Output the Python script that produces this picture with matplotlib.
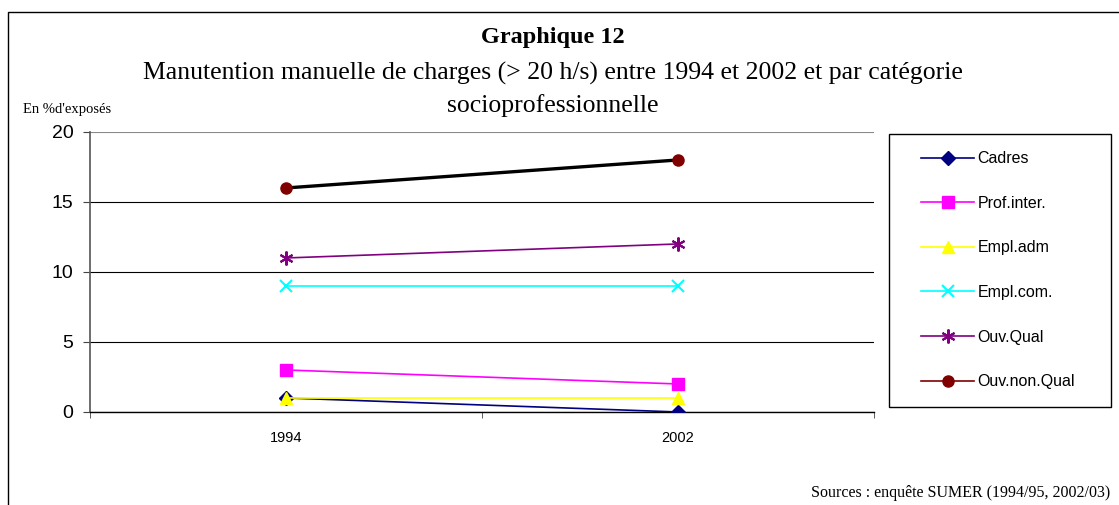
import matplotlib
matplotlib.use('Agg')
import matplotlib.pyplot as plt
from matplotlib.lines import Line2D
from matplotlib.patches import Rectangle

# data
annees = ['1994', '2002']
categories = ['Cadres', 'Prof.inter.', 'Empl.adm', 'Empl.com.', 'Ouv.Qual', 'Ouv.non.Qual']
cadres = [1, 0]
prof_inter = [3, 2]
empl_adm = [1, 1]
empl_com = [9, 9]
ouv_qual = [11, 12]
ouv_non_qual = [16, 18]

series = [cadres, prof_inter, empl_adm, empl_com, ouv_qual, ouv_non_qual]
couleurs = ['#000080', '#FF00FF', '#FFFF00', '#00FFFF', '#800080', '#800000']
marqueurs = ['D', 's', '^', 'x', (6, 2, 0), 'o']
tailles = [7, 8, 9, 9, 10, 8]

SANS = 'Liberation Sans'
SERIF = 'Liberation Serif'

fig = plt.figure(figsize=(11.19, 5.05), dpi=100)
ax = fig.add_axes([0.0804, 0.1842, 0.7006, 0.5545])

x = range(len(annees))
handles = []
for vals, nom, c, m, s in zip(series, categories, couleurs, marqueurs, tailles):
    mew = 1.5 if m in ('x', (6, 2, 0)) else 1
    if nom == 'Ouv.non.Qual':
        ax.plot(x, vals, color='black', lw=2.4, marker=m, ms=s,
                markerfacecolor=c, markeredgecolor=c, zorder=3)
    else:
        ax.plot(x, vals, color=c, lw=1.2, marker=m, ms=s,
                markerfacecolor=c, markeredgecolor=c, mew=mew, zorder=3)
    handles.append(Line2D([0], [0], color=c, lw=1.2, marker=m, ms=s,
                          markerfacecolor=c, markeredgecolor=c, mew=mew))

ax.set_xlim(-0.5, 1.5)
ax.set_ylim(0, 20)
ax.set_yticks([0, 5, 10, 15, 20])
ax.set_xticks(list(x))
ax.set_xticklabels(annees, fontsize=10.5, family=SANS)
ax.set_xticks([-0.5, 0.5, 1.5], minor=True)
ax.tick_params(axis='x', which='major', length=0, pad=14)
ax.tick_params(axis='x', which='minor', length=4, color='#444444')
ax.tick_params(axis='y', length=5, color='#444444', labelsize=14, pad=7)
for lab in ax.get_yticklabels():
    lab.set_family(SANS)

ax.yaxis.grid(True, color='black', lw=0.8)
ax.set_axisbelow(True)
ax.get_ygridlines()[-1].set_color('#888888')
ax.spines['top'].set_visible(False)
ax.spines['right'].set_visible(False)
ax.spines['left'].set_color('#555555')
ax.spines['left'].set_linewidth(1.2)
ax.spines['bottom'].set_color('black')
ax.spines['bottom'].set_linewidth(1.0)

# legend box
fig.patches.append(Rectangle((889 / 1119, 1 - 407 / 505), 222 / 1119, 273 / 505,
                             transform=fig.transFigure, fill=False,
                             edgecolor='black', lw=1.0))
leg = fig.legend(handles, categories, loc='upper left',
                 bbox_to_anchor=(907 / 1119, 1 - 137 / 505),
                 frameon=False, labelspacing=1.85, handlelength=3.3,
                 handletextpad=0.2, prop={'family': SANS, 'size': 11.5})

# outer frame
fig.patches.append(Rectangle((8 / 1119, -0.2), 1.3, 0.2 + 1 - 12 / 505,
                             transform=fig.transFigure, fill=False,
                             edgecolor='black', lw=1.0, clip_on=False))

fig.text(553 / 1119, 1 - 37 / 505, 'Graphique 12', ha='center', va='center',
         family=SERIF, fontweight='bold', fontsize=17.5)
fig.text(553 / 1119, 1 - 73 / 505,
         'Manutention manuelle de charges (> 20 h/s) entre 1994 et 2002 et par catégorie',
         ha='center', va='center', family=SERIF, fontsize=18.5)
fig.text(553 / 1119, 1 - 106 / 505, 'socioprofessionnelle', ha='center', va='center',
         family=SERIF, fontsize=18.5)
fig.text(23 / 1119, 1 - 109 / 505, "En %d'exposés", ha='left', va='center',
         family=SERIF, fontsize=10.5)
fig.text(1110 / 1119, 1 - 493 / 505, 'Sources : enquête SUMER (1994/95, 2002/03)',
         ha='right', va='center', family=SERIF, fontsize=11.5)

fig.savefig('out.png', dpi=100)
